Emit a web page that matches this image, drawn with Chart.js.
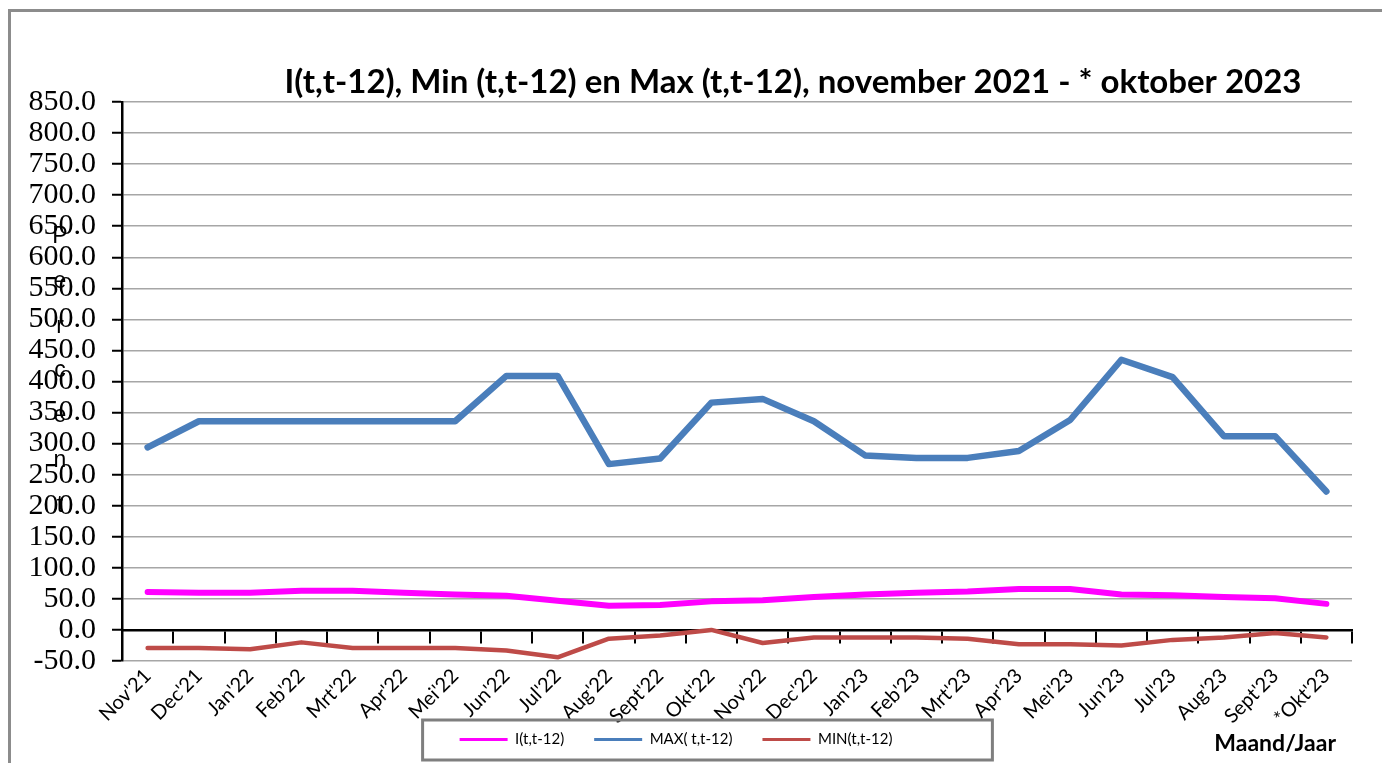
<!DOCTYPE html>
<html>
<head>
<meta charset="utf-8">
<script src="https://cdn.jsdelivr.net/npm/chart.js@4/dist/chart.umd.min.js"></script>
<style>
  html, body { margin: 0; padding: 0; background: #fff; }
</style>
</head>
<body>
<canvas id="indexChart" width="1382" height="763"></canvas>
<script>
const months = ["Nov'21", "Dec'21", "Jan'22", "Feb'22", "Mrt'22", "Apr'22", "Mei'22", "Jun'22",
  "Jul'22", "Aug'22", "Sept'22", "Okt'22", "Nov'22", "Dec'22", "Jan'23", "Feb'23", "Mrt'23",
  "Apr'23", "Mei'23", "Jun'23", "Jul'23", "Aug'23", "Sept'23", "*Okt'23"];

const indexValues = [61, 60, 60, 63, 63, 60, 57, 55, 47, 39, 40, 46, 48, 53, 57, 60, 62, 66, 66, 57, 56, 53, 51, 42];
const maxValues = [294, 336, 336, 336, 336, 336, 336, 409, 409, 267, 276, 366, 372, 336, 281, 277, 277, 288, 338, 435, 407, 312, 312, 223];
const minValues = [-29, -29, -31, -20, -29, -29, -29, -33, -44, -14, -9, 0, -21, -12, -12, -12, -14, -23, -23, -25, -16, -12, -5, -12];

const yMin = -50, yMax = 850, yStep = 50;
const titleText = "I(t,t-12), Min (t,t-12) en Max (t,t-12), november 2021 - * oktober 2023";
const yAxisWord = "Percent";
const xAxisTitle = "Maand/Jaar";

const decor = {
  id: 'decor',
  afterDraw(chart) {
    const c = chart.ctx;
    c.save();
    // outer frame
    c.strokeStyle = '#8c8c8c';
    c.lineWidth = 3;
    c.beginPath();
    c.moveTo(9.5, 800);
    c.lineTo(9.5, 10.5);
    c.lineTo(1400, 10.5);
    c.stroke();

    // title
    c.fillStyle = '#000';
    c.font = 'bold 33px Lato';
    c.textAlign = 'center';
    c.textBaseline = 'alphabetic';
    c.fillText(titleText, 793, 93);

    // vertical stacked axis word
    c.font = '23px "Liberation Sans"';
    c.textBaseline = 'middle';
    for (let i = 0; i < yAxisWord.length; i++) {
      c.fillText(yAxisWord[i], 60, 237 + i * 44.7);
    }

    // x axis title
    c.font = 'bold 23px Lato';
    c.textAlign = 'right';
    c.fillText(xAxisTitle, 1336, 744);

    // legend frame
    const boxes = chart.legend.legendHitBoxes;
    if (boxes && boxes.length) {
      const l = Math.min(...boxes.map(b => b.left));
      const r = Math.max(...boxes.map(b => b.left + b.width));
      const t = Math.min(...boxes.map(b => b.top));
      const bt = Math.max(...boxes.map(b => b.top + b.height));
      c.strokeStyle = '#7f7f7f';
      c.lineWidth = 3;
      c.strokeRect(l - 37, t - 12, (r - l) + 37 + 100, (bt - t) + 25);
    }
    c.restore();
  }
};

new Chart(document.getElementById('indexChart'), {
  type: 'line',
  data: {
    labels: months,
    datasets: [
      { label: 'I(t,t-12)', data: indexValues, borderColor: '#FF00FF', backgroundColor: '#FF00FF', borderWidth: 6 },
      { label: 'MAX( t,t-12)', data: maxValues, borderColor: '#4A7EBB', backgroundColor: '#4A7EBB', borderWidth: 6.5 },
      { label: 'MIN(t,t-12)', data: minValues, borderColor: '#BE4B48', backgroundColor: '#BE4B48', borderWidth: 4.5 }
    ]
  },
  plugins: [decor],
  options: {
    responsive: false,
    animation: false,
    devicePixelRatio: 1,
    layout: { padding: { left: 0, top: 102, right: 30, bottom: 6 } },
    elements: {
      point: { radius: 0, hoverRadius: 0 },
      line: { tension: 0, borderCapStyle: 'round', borderJoinStyle: 'round' }
    },
    plugins: {
      title: { display: false },
      tooltip: { enabled: false },
      legend: {
        position: 'bottom',
        labels: {
          usePointStyle: true,
          pointStyle: 'line',
          pointStyleWidth: 48,
          padding: 30,
          color: '#000',
          font: { family: 'Lato', size: 15 },
          generateLabels(chart) {
            const items = Chart.defaults.plugins.legend.labels.generateLabels(chart);
            items.forEach(it => { it.lineWidth = 3; });
            return items;
          }
        }
      }
    },
    scales: {
      x: {
        type: 'category',
        offset: true,
        position: { y: 0 },
        border: { display: true, color: '#000', width: 2.5 },
        grid: { display: true, offset: true, drawOnChartArea: false, tickLength: 12, color: '#000', lineWidth: 2 },
        ticks: {
          color: '#000',
          font: { family: 'Lato', size: 20 },
          minRotation: 45,
          maxRotation: 45,
          padding: 22,
          autoSkip: false
        }
      },
      xSpace: {
        type: 'category',
        labels: months,
        position: 'bottom',
        border: { display: false },
        grid: { display: false },
        ticks: { display: false },
        afterFit(s) { s.height = 41; }
      },
      y: {
        min: yMin,
        max: yMax,
        border: { display: true, color: '#000', width: 2.5 },
        grid: { color: '#a6a6a6', lineWidth: 1.5, tickLength: 10, tickColor: '#000', tickWidth: 2 },
        ticks: {
          stepSize: yStep,
          autoSkip: false,
          color: '#000',
          padding: 16,
          font: { family: 'Liberation Serif', size: 30 },
          callback: v => v.toFixed(1)
        },
        afterFit(s) { s.width = 122; }
      }
    }
  }
});
</script>
</body>
</html>
